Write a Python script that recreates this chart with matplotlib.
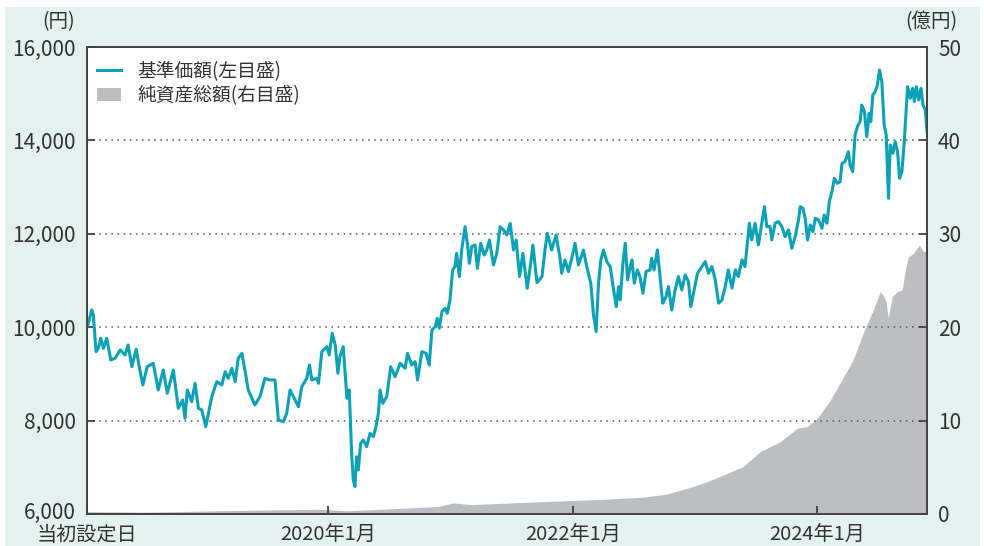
import matplotlib
matplotlib.use("Agg")
import matplotlib.pyplot as plt
import matplotlib.transforms as mtransforms
from matplotlib.lines import Line2D
from matplotlib.patches import Patch, Rectangle
import numpy as np

plt.rcParams['font.family'] = ['Noto Sans CJK JP', 'DejaVu Sans']

# 当初設定日
launch = np.datetime64('2018-01-10')
end_day = 2511

# 基準価額: 設定日からの経過日数と値(円)
nav_days = [
    0, 4, 14, 19, 27, 34, 41, 49, 59, 71, 84, 99, 114, 123, 134, 147, 158, 167,
    180, 198, 213, 228, 240, 258, 273, 286, 293, 300, 313, 323, 333, 343, 355,
    373, 388, 403, 413, 422, 433, 443, 452, 463, 472, 482, 502, 517, 532, 547,
    562, 572, 587, 597, 607, 622, 632, 642, 657, 665, 672, 687, 692, 702, 717,
    724, 733, 742, 750, 756, 766, 777, 784, 791, 796, 801, 806, 811, 818, 826,
    836, 846, 856, 864, 871, 876, 884, 896, 908, 921, 936, 951, 958, 971, 981,
    988, 1001, 1014, 1023, 1031, 1041, 1047, 1053, 1061, 1070, 1077, 1085,
    1093, 1100, 1105, 1113, 1120, 1130, 1137, 1143, 1150, 1160, 1167, 1177,
    1187, 1195, 1203, 1215, 1225, 1235, 1245, 1255, 1265, 1275, 1283, 1293,
    1303, 1316, 1325, 1333, 1345, 1360, 1369, 1376, 1389, 1402, 1414, 1419,
    1429, 1439, 1449, 1459, 1469, 1484, 1494, 1506, 1514, 1522, 1529, 1536,
    1544, 1554, 1564, 1572, 1582, 1589, 1594, 1602, 1609, 1616, 1624, 1629,
    1636, 1645, 1653, 1662, 1671, 1683, 1688, 1695, 1705, 1713, 1721, 1731,
    1738, 1748, 1758, 1768, 1778, 1788, 1798, 1805, 1815, 1825, 1838, 1848,
    1858, 1868, 1878, 1888, 1898, 1908, 1917, 1928, 1938, 1947, 1958, 1967,
    1972, 1980, 1987, 1997, 2007, 2017, 2025, 2032, 2042, 2047, 2057, 2067,
    2077, 2087, 2097, 2107, 2117, 2127, 2132, 2140, 2147, 2154, 2162, 2170,
    2177, 2187, 2197, 2204, 2212, 2219, 2227, 2234, 2243, 2251, 2257, 2266,
    2276, 2281, 2289, 2296, 2303, 2311, 2316, 2324, 2331, 2338, 2343, 2349,
    2356, 2363, 2369, 2376, 2383, 2389, 2396, 2401, 2409, 2416, 2423, 2429,
    2436, 2443, 2449, 2453, 2461, 2468, 2473, 2479, 2486, 2493, 2499, 2506,
    2511,
]
nav_values = [
    10000, 10083, 10369, 10262, 9477, 9548, 9762, 9548, 9762, 9298, 9334, 9512,
    9405, 9619, 9155, 9526, 9084, 8763, 9155, 9227, 8656, 9084, 8584, 9084,
    8263, 8442, 8049, 8656, 8406, 8798, 8263, 8227, 7870, 8513, 8834, 8763,
    9048, 8905, 9120, 8834, 9334, 9441, 9084, 8656, 8334, 8513, 8905, 8870,
    8870, 8013, 7977, 8156, 8656, 8442, 8299, 8727, 8905, 9191, 8869, 8905,
    8798, 9476, 9583, 9405, 9869, 9619, 9012, 9369, 9583, 8477, 8655, 7299,
    6728, 6585, 7228, 6942, 7513, 7585, 7442, 7727, 7656, 7870, 8156, 8655,
    8370, 8513, 9155, 8941, 9226, 9119, 9440, 9190, 9262, 8869, 9476, 9440,
    9190, 9940, 10011, 10190, 9976, 10333, 10404, 10297, 10583, 11225, 11297,
    11582, 11082, 11653, 12153, 11796, 11368, 11725, 11760, 11261, 11796,
    11546, 11653, 11867, 11332, 11582, 12153, 12082, 11974, 12224, 11653,
    11867, 11082, 11582, 10832, 11297, 11760, 10954, 11082, 11653, 12010,
    11653, 11974, 11475, 11154, 11439, 11189, 11475, 11796, 11332, 11653,
    11297, 10940, 10262, 9905, 10940, 11439, 11653, 11403, 11297, 10904,
    10440, 10868, 10585, 11370, 11798, 11013, 11298, 11441, 10941, 11227,
    11084, 10727, 11191, 11227, 11477, 11227, 11655, 11084, 10513, 10656,
    10870, 10370, 10798, 11084, 10798, 11120, 10977, 10442, 10798, 11155,
    11298, 11405, 11155, 11298, 11013, 10513, 10585, 10870, 11227, 10834,
    11227, 11084, 11441, 11298, 11655, 12226, 11869, 12226, 11762, 12226,
    12583, 12155, 12155, 11869, 12226, 12262, 12155, 11941, 12084, 11691,
    11941, 12298, 12581, 12546, 12331, 11867, 12189, 12046, 12331, 12296,
    12117, 12403, 12225, 12688, 12903, 13188, 13081, 13117, 13509, 13545,
    13759, 13474, 13331, 14116, 14294, 14401, 14758, 14616, 14080, 14580,
    14401, 14972, 15044, 15187, 15508, 15258, 14330, 14116, 12760, 13902,
    13723, 13973, 13759, 13188, 13331, 13973, 14687, 15151, 14901, 15115,
    14830, 15151, 14865, 15115, 14758, 14651, 14187,
]

# 純資産総額: 経過日数と値(億円)
aum_days = [
    0, 188, 398, 577, 700, 777, 876, 1047, 1097, 1145, 1345, 1546, 1594, 1662,
    1734, 1794, 1854, 1914, 1961, 2012, 2072, 2123, 2153, 2183, 2222, 2251,
    2290, 2320, 2350, 2371, 2380, 2389, 2395, 2407, 2422, 2437, 2446, 2455,
    2470, 2488, 2500, 2511,
]
aum_values = [
    0.25, 0.2, 0.35, 0.45, 0.5, 0.35, 0.5, 0.8, 1.2, 1.0, 1.3, 1.57, 1.68, 1.8,
    2.14, 2.75, 3.46, 4.35, 5.07, 6.67, 7.74, 9.17, 9.35, 10.24, 12.2, 14.0,
    16.5, 19.35, 21.8, 23.8, 23.4, 22.7, 20.95, 23.3, 23.8, 24.0, 26.1, 27.5,
    27.9, 28.8, 28.1, 28.2,
]

tick_dates = ['2020-01-01', '2022-01-01', '2024-01-01']
tick_labels = ['当初設定日', '2020年1月', '2022年1月', '2024年1月']
left_ticks = [6000, 8000, 10000, 12000, 14000, 16000]
right_ticks = [0, 10, 20, 30, 40, 50]

teal = '#0ba1b6'
gray = '#bdbec2'
text_c = '#333333'

nav_x = launch + np.array(nav_days).astype('timedelta64[D]')
aum_x = launch + np.array(aum_days).astype('timedelta64[D]')

fig = plt.figure(figsize=(9.84, 5.46), dpi=100)
fig.patches.append(Rectangle((5 / 984, 0), 975 / 984, 539 / 546,
                             transform=fig.transFigure, facecolor='#e3f2ef',
                             edgecolor='none', zorder=-10))

ax = fig.add_axes([87 / 984, 32 / 546, 840 / 984, 467 / 546])
ax2 = ax.twinx()
ax.set_zorder(ax2.get_zorder() + 1)
ax.patch.set_visible(False)
ax2.patch.set_visible(True)
ax2.patch.set_facecolor('white')

ax2.fill_between(aum_x, aum_values, 0, color=gray, linewidth=0)
ax.plot(nav_x, nav_values, color=teal, lw=2.2, solid_joinstyle='round')

ax.set_xlim(launch, launch + np.timedelta64(end_day, 'D'))
ax.set_ylim(6000, 16000)
ax2.set_ylim(0, 50)

ax.set_xticks([launch] + [np.datetime64(d) for d in tick_dates])
ax.set_xticklabels(tick_labels)
ax.set_yticks(left_ticks)
ax.set_yticklabels([f'{v:,}' for v in left_ticks])
ax2.set_yticks(right_ticks)

ax.grid(axis='y', linestyle=(0, (1, 3)), color='#555555', lw=1.1)
for a in (ax, ax2):
    a.tick_params(direction='in', length=6, width=1.2, color=text_c,
                  labelsize=15, labelcolor=text_c, pad=8)
    for s in a.spines.values():
        s.set_color('#444444')
        s.set_linewidth(1.3)
ax.tick_params(axis='x', pad=8, labelsize=14.5)

# 6,000 のラベルを少し上げて当初設定日と重ならないようにする
lift = mtransforms.ScaledTranslation(0, 4 / 100, fig.dpi_scale_trans)
lbl = ax.yaxis.get_major_ticks()[0].label1
lbl.set_transform(lbl.get_transform() + lift)

fig.text(75 / 984, 1 - 22 / 546, '(円)', ha='right', va='center',
         fontsize=14, color=text_c)
fig.text(957 / 984, 1 - 22 / 546, '(億円)', ha='right', va='center',
         fontsize=14, color=text_c)

handles = [Line2D([], [], color=teal, lw=2.2),
           Patch(facecolor=gray, edgecolor='none')]
ax.legend(handles, ['基準価額(左目盛)', '純資産総額(右目盛)'],
          loc='upper left', bbox_to_anchor=(10 / 840, 1 - 14 / 467),
          frameon=False, fontsize=13.5, borderpad=0, borderaxespad=0,
          handlelength=1.3, handletextpad=0.85, labelspacing=0.15,
          labelcolor=text_c)

fig.savefig('out.png', dpi=100, facecolor='white')
